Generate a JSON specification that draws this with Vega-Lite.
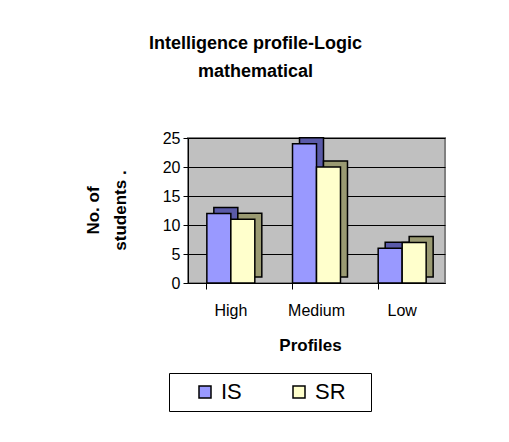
{
  "$schema": "https://vega.github.io/schema/vega-lite/v6.json",
  "autosize": "none",
  "width": 257,
  "height": 145,
  "padding": {"left": 188, "top": 138, "right": 64, "bottom": 159},
  "background": "white",
  "title": {
    "text": ["Intelligence profile-Logic", "mathematical"],
    "anchor": "middle",
    "frame": "group",
    "dx": -61,
    "offset": 49,
    "fontSize": 18,
    "fontWeight": "bold",
    "font": "Liberation Sans",
    "color": "black",
    "lineHeight": 28
  },
  "config": {
    "view": {"fill": "#C0C0C0", "stroke": "#808080", "strokeWidth": 2},
    "font": "Liberation Sans"
  },
  "data": {
    "values": [
      {"Profile": "High", "Series": "IS", "Students": 12},
      {"Profile": "High", "Series": "SR", "Students": 11},
      {"Profile": "Medium", "Series": "IS", "Students": 24},
      {"Profile": "Medium", "Series": "SR", "Students": 20},
      {"Profile": "Low", "Series": "IS", "Students": 6},
      {"Profile": "Low", "Series": "SR", "Students": 7}
    ]
  },
  "resolve": {"scale": {"xOffset": "independent"}},
  "encoding": {
    "x": {
      "field": "Profile",
      "type": "nominal",
      "sort": ["High", "Medium", "Low"],
      "scale": {"paddingInner": 0.44, "paddingOuter": 0.22},
      "axis": {
        "title": "Profiles",
        "titleFontSize": 17,
        "titleFontWeight": "bold",
        "titleColor": "black",
        "titleX": 122,
        "titleY": 62,
        "titleBaseline": "middle",
        "labelAngle": 0,
        "labelFontSize": 16,
        "labelColor": "black",
        "labelPadding": 13,
        "tickSize": 6,
        "tickColor": "black",
        "domainColor": "black",
        "bandPosition": 0
      }
    },
    "y": {
      "field": "Students",
      "type": "quantitative",
      "scale": {"domain": [0, 25]},
      "axis": {
        "values": [0, 5, 10, 15, 20, 25],
        "title": ["No. of", "students ."],
        "titleFontSize": 17,
        "titleFontWeight": "bold",
        "titleColor": "black",
        "titleAngle": -90,
        "titleX": -95,
        "titleY": 72,
        "titleAlign": "center",
        "titleBaseline": "middle",
        "titleLineHeight": 27,
        "labelFontSize": 16,
        "labelColor": "black",
        "labelPadding": 3,
        "tickSize": 5,
        "tickColor": "black",
        "domainColor": "black",
        "gridColor": "black",
        "gridWidth": 1
      }
    }
  },
  "layer": [
    {
      "mark": {"type": "bar", "yOffset": -6, "stroke": "black", "strokeWidth": 1.5},
      "encoding": {
        "xOffset": {"field": "Series", "type": "nominal", "sort": ["IS", "SR"], "scale": {"range": [7, 54.97]}},
        "fill": {
          "condition": {"test": "datum.Series === 'IS'", "value": "#5A5AA8"},
          "value": "#9A9A72"
        }
      }
    },
    {
      "mark": {"type": "bar", "stroke": "black", "strokeWidth": 1.5},
      "encoding": {
        "xOffset": {"field": "Series", "type": "nominal", "sort": ["IS", "SR"]},
        "color": {
          "field": "Series",
          "type": "nominal",
          "sort": ["IS", "SR"],
          "scale": {"domain": ["IS", "SR"], "range": ["#9999FF", "#FFFFCC"]},
          "legend": {
            "title": "\u00a0",
            "titleOrient": "right",
            "titlePadding": 17,
            "titleFontSize": 11,
            "orient": "none",
            "legendX": -19,
            "legendY": 235,
            "direction": "horizontal",
            "strokeColor": "black",
            "fillColor": "white",
            "padding": 8,
            "symbolType": "square",
            "symbolSize": 144,
            "symbolStrokeColor": "black",
            "symbolStrokeWidth": 1.5,
            "symbolOpacity": 1,
            "symbolOffset": 17,
            "labelOffset": 5,
            "columnPadding": 29,
            "labelFontSize": 22,
            "labelColor": "black"
          }
        }
      }
    }
  ]
}
